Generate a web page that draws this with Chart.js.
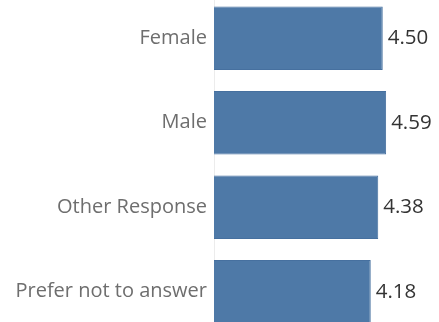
<!DOCTYPE html>
<html>
<head>
<meta charset="utf-8">
<script src="https://cdn.jsdelivr.net/npm/chart.js@4/dist/chart.umd.min.js"></script>
<style>
  html, body { margin: 0; padding: 0; background: #fff; overflow: hidden; }
  #wrap { position: absolute; left: 0; top: -4px; width: 439px; height: 338px; }
</style>
</head>
<body>
<div id="wrap"><canvas id="c"></canvas></div>
<script>
// Average score by gender group
const categories = ["Female", "Male", "Other Response", "Prefer not to answer"];
const scores = [4.50, 4.59, 4.38, 4.18];

const FONT = '"Open Sans", "Noto Sans", sans-serif';

// Writes each bar's value just past its end
const valueLabels = {
  id: 'valueLabels',
  afterDatasetsDraw(chart) {
    const ctx = chart.ctx;
    const meta = chart.getDatasetMeta(0);
    ctx.save();
    ctx.font = '20.5px ' + FONT;
    ctx.fillStyle = '#333333';
    ctx.textAlign = 'left';
    ctx.textBaseline = 'middle';
    meta.data.forEach((bar, i) => {
      ctx.fillText(scores[i].toFixed(2), bar.x + 5, bar.y);
    });
    ctx.restore();
  }
};

new Chart(document.getElementById('c'), {
  type: 'bar',
  data: {
    labels: categories,
    datasets: [{
      data: scores,
      backgroundColor: '#4e79a7',
      borderColor: '#46709f',
      borderWidth: 1,
      barPercentage: 0.75,
      categoryPercentage: 1.0
    }]
  },
  options: {
    indexAxis: 'y',
    responsive: true,
    maintainAspectRatio: false,
    animation: false,
    layout: { padding: 0 },
    plugins: {
      legend: { display: false },
      tooltip: { enabled: false }
    },
    scales: {
      x: {
        display: false,
        min: 0,
        max: 6
      },
      y: {
        grid: { display: false, drawTicks: false },
        border: { display: true, color: '#ececec', width: 1 },
        ticks: {
          color: '#6e6e6e',
          font: { family: FONT, size: 20 },
          padding: 7
        },
        afterFit(scale) {
          scale.width = 214;
          scale.paddingTop = 0;
          scale.paddingBottom = 0;
        }
      }
    }
  },
  plugins: [valueLabels]
});
</script>
</body>
</html>
